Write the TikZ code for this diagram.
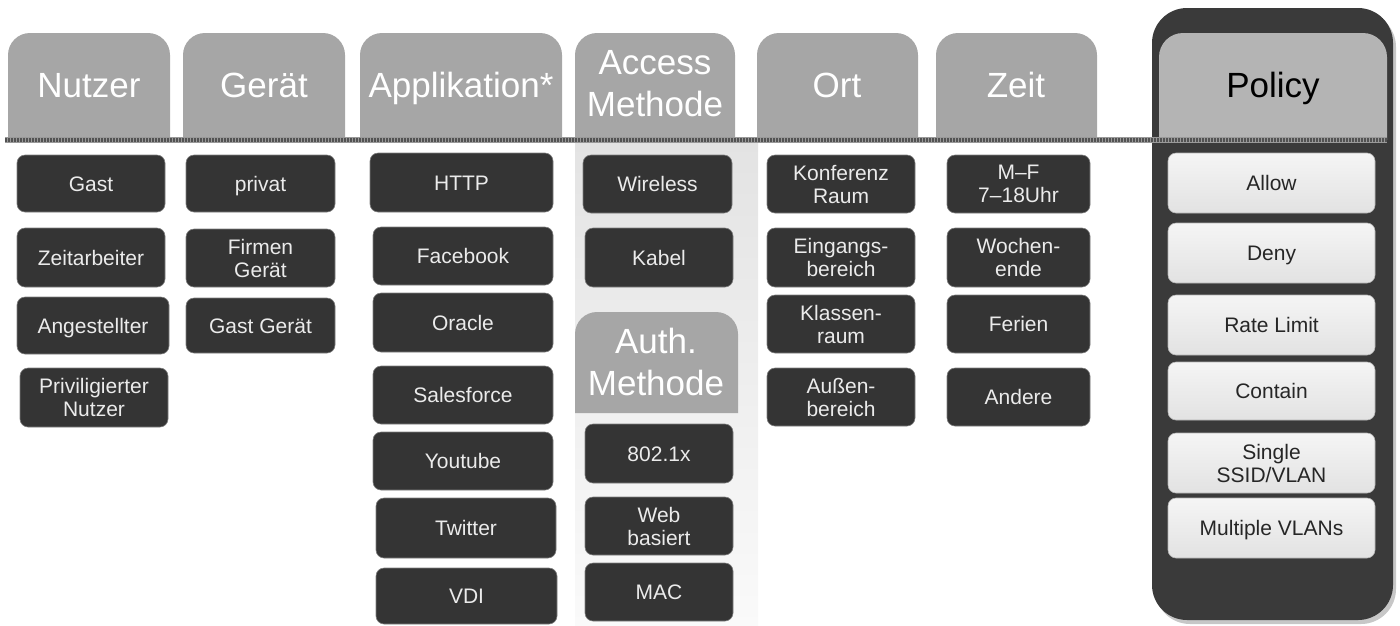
\documentclass[tikz,border=0pt]{standalone}
\usepackage{fontspec}
\setmainfont{Liberation Sans}
\definecolor{hdr}{RGB}{166,166,166}
\definecolor{phdr}{RGB}{180,180,180}
\definecolor{dboxc}{RGB}{52,52,52}
\definecolor{poutc}{RGB}{58,58,58}
\definecolor{lboxtop}{RGB}{245,245,245}
\definecolor{lboxbot}{RGB}{226,226,226}
\begin{document}
\begin{tikzpicture}[x=1pt,y=-1pt,
  darkbox/.style={fill=dboxc, draw=black!50, line width=0.6pt, rounded corners=8pt,
    text=white!92!black, font=\fontsize{21}{23}\selectfont, align=center, inner sep=0pt},
  lightbox/.style={top color=lboxtop, bottom color=lboxbot, draw=black!30, line width=0.6pt,
    rounded corners=8pt, text=black!85, font=\fontsize{21}{23}\selectfont, align=center,
    inner sep=0pt, minimum width=207pt, minimum height=60pt},
  oneline/.style={text height=15pt, text depth=0pt},
  tabfill/.style={fill=hdr},
  hdrtext/.style={text=white, font=\fontsize{35}{42}\selectfont, align=center, inner sep=0pt},
  onehdr/.style={text height=25pt, text depth=0pt},
]
\useasboundingbox (0,0) rectangle (1400,625);

% Policy column background
\fill[black!22, rounded corners=35pt] (1155,12) rectangle (1396,624);
\fill[poutc, rounded corners=35pt] (1152,8) rectangle (1393,620);
\fill[phdr] (1159,140) [rounded corners=24pt] -- (1159,33) -- (1387,33) [sharp corners] -- (1387,140) -- cycle;
\node[text=black, font=\fontsize{35}{42}\selectfont, inner sep=0pt, onehdr] (hpolicy) at (1273,85) {Policy};

% Access column band
\shade[top color=black!11, bottom color=black!2] (575,140) rectangle (758,625);

% header tabs
\fill[tabfill] (8,137) [rounded corners=22pt] -- (8,33) -- (170,33) [sharp corners] -- (170,137) -- cycle;
\fill[tabfill] (183,137) [rounded corners=22pt] -- (183,33) -- (345,33) [sharp corners] -- (345,137) -- cycle;
\fill[tabfill] (360,137) [rounded corners=22pt] -- (360,33) -- (562,33) [sharp corners] -- (562,137) -- cycle;
\fill[tabfill] (575,137) [rounded corners=22pt] -- (575,33) -- (735,33) [sharp corners] -- (735,137) -- cycle;
\fill[tabfill] (757,137) [rounded corners=22pt] -- (757,33) -- (918,33) [sharp corners] -- (918,137) -- cycle;
\fill[tabfill] (936,137) [rounded corners=22pt] -- (936,33) -- (1097,33) [sharp corners] -- (1097,137) -- cycle;
\fill[tabfill] (575,413) [rounded corners=22pt] -- (575,312) -- (738,312) [sharp corners] -- (738,413) -- cycle;

\node[hdrtext, onehdr] (hnutzer) at (89,85) {Nutzer};
\node[hdrtext, onehdr] (hgeraet) at (264,85) {Gerät};
\node[hdrtext, onehdr] (happ) at (461,85) {Applikation*};
\node[hdrtext] (hacc) at (655,84) {Access\\Methode};
\node[hdrtext, onehdr] (hort) at (837,85) {Ort};
\node[hdrtext, onehdr] (hzeit) at (1016,85) {Zeit};
\node[hdrtext] (hauth) at (656,362) {Auth.\\Methode};

% separator line
\coordinate (lineL) at (5,140);
\coordinate (lineR) at (1387,140);
\draw[line width=5.5pt, black!40] (lineL) -- (lineR);
\draw[line width=3.5pt, black!68, dash pattern=on 1.5pt off 1.5pt] (lineL) -- (lineR);

% Nutzer
\node[darkbox, oneline, minimum width=148pt, minimum height=57pt] (gast) at (91,183.5) {Gast};
\node[darkbox, oneline, minimum width=148pt, minimum height=59pt] (zeitarb) at (91,257.5) {Zeitarbeiter};
\node[darkbox, oneline, minimum width=152pt, minimum height=57pt] (angest) at (93,325.5) {Angestellter};
\node[darkbox, minimum width=148pt, minimum height=59pt] (privnutz) at (94,397.5) {Priviligierter\\Nutzer};

% Geraet
\node[darkbox, oneline, minimum width=149pt, minimum height=57pt] (privat) at (260.5,183.5) {privat};
\node[darkbox, minimum width=149pt, minimum height=58pt] (firmen) at (260.5,258) {Firmen\\Gerät};
\node[darkbox, oneline, minimum width=149pt, minimum height=55pt] (gastger) at (260.5,325.5) {Gast Gerät};

% Applikation
\node[darkbox, oneline, minimum width=183pt, minimum height=59pt] (http) at (461.5,182.5) {HTTP};
\node[darkbox, oneline, minimum width=180pt, minimum height=58pt] (fb) at (463,256) {Facebook};
\node[darkbox, oneline, minimum width=180pt, minimum height=59pt] (oracle) at (463,322.5) {Oracle};
\node[darkbox, oneline, minimum width=180pt, minimum height=58pt] (sales) at (463,395) {Salesforce};
\node[darkbox, oneline, minimum width=180pt, minimum height=58pt] (yt) at (463,461) {Youtube};
\node[darkbox, oneline, minimum width=180pt, minimum height=60pt] (tw) at (466,528) {Twitter};
\node[darkbox, oneline, minimum width=181pt, minimum height=56pt] (vdi) at (466.5,596) {VDI};

% Access / Auth
\node[darkbox, oneline, minimum width=149pt, minimum height=58pt] (wireless) at (657.5,184) {Wireless};
\node[darkbox, oneline, minimum width=148pt, minimum height=59pt] (kabel) at (659,257.5) {Kabel};
\node[darkbox, oneline, minimum width=148pt, minimum height=59pt] (dot1x) at (659,453.5) {802.1x};
\node[darkbox, minimum width=148pt, minimum height=58pt] (web) at (659,526) {Web\\basiert};
\node[darkbox, oneline, minimum width=148pt, minimum height=58pt] (mac) at (659,592) {MAC};

% Ort
\node[darkbox, minimum width=148pt, minimum height=58pt] (konf) at (841,184) {Konferenz\\Raum};
\node[darkbox, minimum width=148pt, minimum height=59pt] (eing) at (841,257.5) {Eingangs-\\bereich};
\node[darkbox, minimum width=148pt, minimum height=58pt] (klass) at (841,324) {Klassen-\\raum};
\node[darkbox, minimum width=148pt, minimum height=58pt] (aussen) at (841,397) {Außen-\\bereich};

% Zeit
\node[darkbox, minimum width=143pt, minimum height=58pt] (mf) at (1018.5,184) {M–F\\7–18Uhr};
\node[darkbox, minimum width=143pt, minimum height=59pt] (woch) at (1018.5,257.5) {Wochen-\\ende};
\node[darkbox, oneline, minimum width=143pt, minimum height=58pt] (ferien) at (1018.5,324) {Ferien};
\node[darkbox, oneline, minimum width=143pt, minimum height=58pt] (andere) at (1018.5,397) {Andere};

% Policy
\node[lightbox, oneline] (allow) at (1271.5,183) {Allow};
\node[lightbox, oneline] (deny) at (1271.5,253) {Deny};
\node[lightbox, oneline] (rate) at (1271.5,325) {Rate Limit};
\node[lightbox, oneline, minimum height=58pt] (contain) at (1271.5,391) {Contain};
\node[lightbox] (single) at (1271.5,463) {Single\\SSID/VLAN};
\node[lightbox, oneline] (multi) at (1271.5,528) {Multiple VLANs};
\end{tikzpicture}
\end{document}
